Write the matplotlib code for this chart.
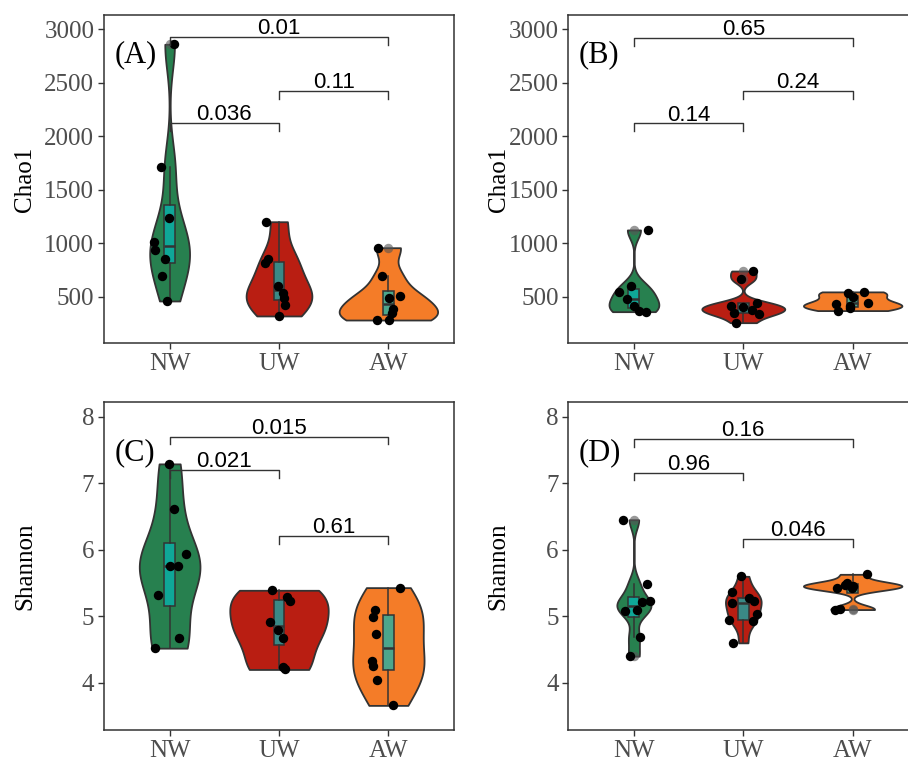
import matplotlib
matplotlib.use('Agg')
import matplotlib.pyplot as plt
import numpy as np

plt.rcParams['font.family'] = ['Liberation Serif', 'DejaVu Serif']

groups = ['NW', 'UW', 'AW']
colors = ['#27804F', '#B91E12', '#F47C28']

# (A) Chao1, left set
a_nw = [2860, 1715, 1239, 1009, 937, 855, 693, 460]
a_nw_jit = [0.037, -0.076, -0.01, -0.146, -0.137, -0.04, -0.07, -0.024]
a_uw = [1201, 850, 812, 600, 531, 490, 419, 320]
a_uw_jit = [-0.122, -0.097, -0.128, -0.006, 0.033, 0.049, 0.058, 0.0]
a_aw = [958, 693, 506, 490, 382, 345, 282, 282]
a_aw_jit = [-0.099, -0.055, 0.11, 0.003, 0.046, 0.03, 0.003, -0.107]
a_pairs = [(1, 3), (2, 3), (1, 2)]
a_bar_y = [2931, 2426, 2127]
a_p = ['0.01', '0.11', '0.036']

# (B) Chao1, right set
b_nw = [1124, 600, 541, 478, 413, 369, 360]
b_nw_jit = [0.128, -0.024, -0.137, -0.061, 0.0, 0.046, 0.113]
b_uw = [740, 662, 444, 413, 400, 376, 344, 335, 257]
b_uw_jit = [0.091, -0.024, 0.128, -0.11, 0.0, 0.076, -0.085, 0.14, -0.07]
b_aw = [545, 538, 500, 444, 432, 410, 391, 370]
b_aw_jit = [0.104, -0.04, 0.0, 0.143, -0.152, -0.02, -0.024, -0.131]
b_pairs = [(1, 3), (2, 3), (1, 2)]
b_bar_y = [2922, 2426, 2121]
b_p = ['0.65', '0.24', '0.14']

# (C) Shannon, left set
c_nw = [7.29, 6.61, 5.935, 5.76, 5.755, 5.32, 4.68, 4.52]
c_nw_jit = [-0.003, 0.037, 0.149, 0.0, 0.076, -0.11, 0.088, -0.137]
c_uw = [5.39, 5.29, 5.23, 4.91, 4.80, 4.67, 4.24, 4.20]
c_uw_jit = [-0.067, 0.07, 0.10, -0.082, -0.006, 0.04, 0.033, 0.055]
c_aw = [5.43, 5.09, 4.99, 4.74, 4.32, 4.25, 4.04, 3.66]
c_aw_jit = [0.107, -0.122, -0.143, -0.116, -0.152, -0.143, -0.107, 0.046]
c_pairs = [(1, 3), (1, 2), (2, 3)]
c_bar_y = [7.70, 7.20, 6.21]
c_p = ['0.015', '0.021', '0.61']

# (D) Shannon, right set
d_nw = [6.45, 5.48, 5.23, 5.22, 5.09, 5.08, 4.69, 4.40]
d_nw_jit = [-0.1, 0.12, 0.146, 0.076, 0.03, -0.082, 0.06, -0.037]
d_uw = [5.60, 5.36, 5.27, 5.23, 5.20, 5.04, 4.95, 4.93, 4.60]
d_uw_jit = [-0.024, -0.1, 0.052, 0.097, -0.1, 0.122, -0.13, 0.091, -0.09]
d_aw = [5.63, 5.50, 5.47, 5.45, 5.43, 5.42, 5.11, 5.10]
d_aw_jit = [0.128, -0.055, -0.07, 0.0, -0.146, -0.01, -0.116, -0.16]
d_pairs = [(1, 3), (1, 2), (2, 3)]
d_bar_y = [7.66, 7.16, 6.16]
d_p = ['0.16', '0.96', '0.046']

chao_ticks = [500, 1000, 1500, 2000, 2500, 3000]
shannon_ticks = [4, 5, 6, 7, 8]

EDGE = '#333333'


def bw_nrd0(x):
    # R 的默认带宽
    x = np.asarray(x, dtype=float)
    q1, q3 = np.percentile(x, [25, 75])
    lo = min(np.std(x, ddof=1), (q3 - q1) / 1.34)
    if lo == 0:
        lo = np.std(x, ddof=1) or abs(x[0]) or 1
    return 0.9 * lo * len(x) ** -0.2


def kde(x, grid):
    x = np.asarray(x, dtype=float)
    h = bw_nrd0(x)
    z = (grid[:, None] - x[None, :]) / h
    return np.exp(-0.5 * z ** 2).sum(axis=1) / (len(x) * h * np.sqrt(2 * np.pi))


def panel(ax, data, jits, pairs, bar_y, plabels, ylim, yticks, ylabel, tag, tag_y):
    grids = [np.linspace(min(v), max(v), 512) for v in data]
    dens = [kde(v, g) for v, g in zip(data, grids)]
    top = max(d.max() for d in dens)  # scale = "area"
    for i, (g, d) in enumerate(zip(grids, dens)):
        half = 0.45 * d / top
        ax.fill_betweenx(g, i + 1 - half, i + 1 + half, facecolor=colors[i],
                         edgecolor=EDGE, linewidth=1.3, zorder=1)
    ax.boxplot(data, positions=[1, 2, 3], widths=0.1, patch_artist=True,
               showcaps=False, manage_ticks=False,
               boxprops=dict(facecolor=(0.02, 0.72, 0.72, 0.7), edgecolor=EDGE, linewidth=1.1),
               medianprops=dict(color=EDGE, linewidth=1.8),
               whiskerprops=dict(color=EDGE, linewidth=1.1),
               flierprops=dict(marker='o', markerfacecolor='#555555', markeredgecolor='none',
                               markersize=6.8, alpha=0.6),
               zorder=2)
    for i, (v, j) in enumerate(zip(data, jits)):
        ax.scatter(i + 1 + np.asarray(j), v, s=46, color='black', linewidths=0, zorder=3)
    # 显著性括号
    tip = 0.024 * (ylim[1] - ylim[0])
    for (x1, x2), y, lab in zip(pairs, bar_y, plabels):
        ax.plot([x1, x1, x2, x2], [y - tip, y, y, y - tip], color=EDGE, lw=1.0, zorder=4)
        ax.annotate(lab, xy=((x1 + x2) / 2, y), xytext=(0, 2), textcoords='offset points',
                    ha='center', va='baseline', fontsize=16, family='Liberation Sans',
                    color='black', zorder=5)
    ax.text(0.03, tag_y, tag, transform=ax.transAxes, fontsize=22, va='baseline', ha='left')

    ax.set_xlim(0.4, 3.6)
    ax.set_ylim(*ylim)
    ax.set_xticks([1, 2, 3])
    ax.set_xticklabels(groups)
    ax.set_yticks(yticks)
    ax.tick_params(axis='both', length=4.5, width=1.0, color=EDGE, labelsize=18,
                   labelcolor='#4D4D4D', pad=2.5)
    for s in ax.spines.values():
        s.set_color(EDGE)
        s.set_linewidth(1.1)
    ax.set_ylabel(ylabel, fontsize=18)


def main():
    fig = plt.figure(figsize=(9.08, 7.6), dpi=100)
    w, h = 350 / 908, 328 / 760
    ax_a = fig.add_axes([104 / 908, 1 - 343 / 760, w, h])
    ax_b = fig.add_axes([568.3 / 908, 1 - 343 / 760, w, h])
    ax_c = fig.add_axes([104 / 908, 1 - 730 / 760, w, h])
    ax_d = fig.add_axes([568.3 / 908, 1 - 730 / 760, w, h])

    chao_lim = (67, 3134)
    sh_lim = (3.29, 8.22)
    panel(ax_a, [a_nw, a_uw, a_aw], [a_nw_jit, a_uw_jit, a_aw_jit], a_pairs, a_bar_y, a_p,
          chao_lim, chao_ticks, 'Chao1', '(A)', 0.855)
    panel(ax_b, [b_nw, b_uw, b_aw], [b_nw_jit, b_uw_jit, b_aw_jit], b_pairs, b_bar_y, b_p,
          chao_lim, chao_ticks, 'Chao1', '(B)', 0.855)
    panel(ax_c, [c_nw, c_uw, c_aw], [c_nw_jit, c_uw_jit, c_aw_jit], c_pairs, c_bar_y, c_p,
          sh_lim, shannon_ticks, 'Shannon', '(C)', 0.823)
    panel(ax_d, [d_nw, d_uw, d_aw], [d_nw_jit, d_uw_jit, d_aw_jit], d_pairs, d_bar_y, d_p,
          sh_lim, shannon_ticks, 'Shannon', '(D)', 0.823)

    # 轴标题对齐
    for ax in (ax_a, ax_c):
        ax.yaxis.set_label_coords(-0.193, 0.5)
    for ax in (ax_b, ax_d):
        ax.yaxis.set_label_coords(-0.168, 0.5)

    fig.savefig('out.png', dpi=100)


if __name__ == '__main__':
    main()
